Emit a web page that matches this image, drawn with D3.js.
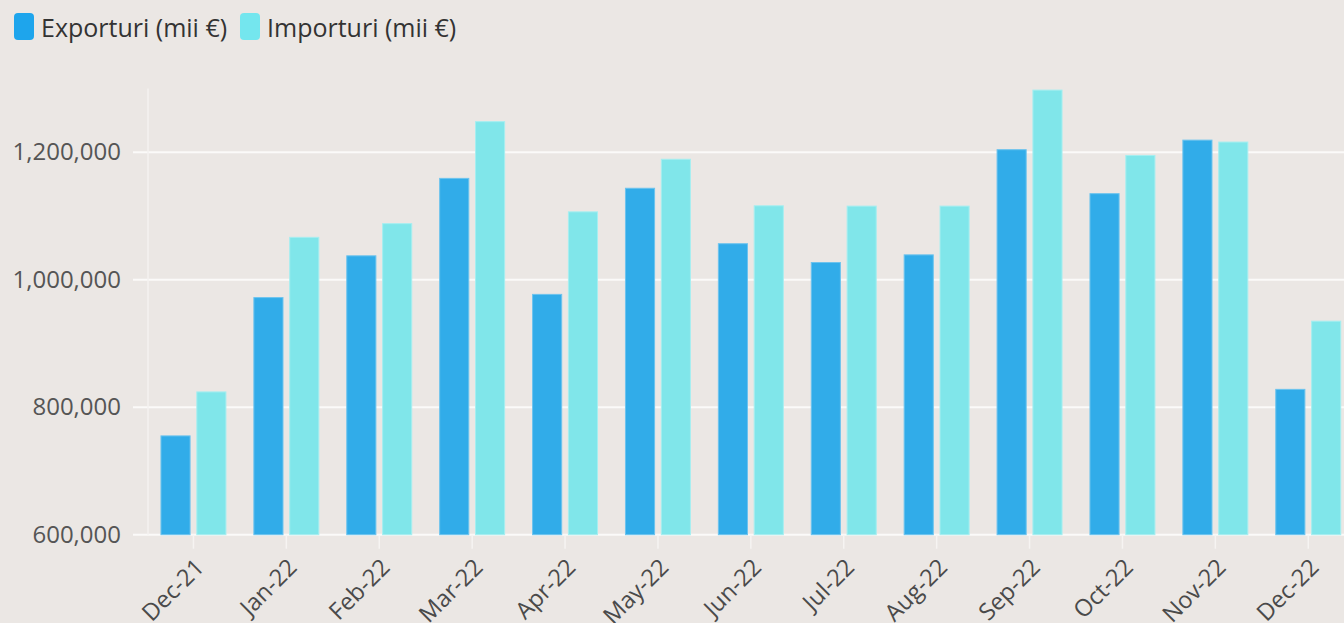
<!DOCTYPE html>
<html>
<head>
<meta charset="utf-8">
<script src="https://cdn.jsdelivr.net/npm/d3@7"></script>
<style>
  html, body { margin: 0; padding: 0; background: #ebe7e4; }
  svg { display: block; font-family: "Open Sans", "Noto Sans", sans-serif; }
</style>
</head>
<body>
<svg id="chart" width="1344" height="623"></svg>
<script>
// date (mii €)
const months = ["Dec-21", "Jan-22", "Feb-22", "Mar-22", "Apr-22", "May-22", "Jun-22",
  "Jul-22", "Aug-22", "Sep-22", "Oct-22", "Nov-22", "Dec-22"];
const exporturi = [755000, 972000, 1037500, 1159000, 977000, 1143500, 1056500,
  1027000, 1039000, 1204000, 1135000, 1219000, 828000];
const importuri = [824000, 1066500, 1088000, 1248000, 1106500, 1189000, 1116000,
  1115500, 1115500, 1297500, 1195000, 1216000, 935000];
const seriesNames = ["Exporturi (mii €)", "Importuri (mii €)"];
const yTicks = [600000, 800000, 1000000, 1200000];

const colors = ["#31ace9", "#80e6ea"];
const strokes = ["#6cc3ee", "#a6eef0"];

const svg = d3.select("#chart");
const width = 1344, height = 623;

const plotLeft = 147, plotBottom = 534.7, plotTop = 88.5;
const step = 92.9;

const x0 = d3.scaleBand()
  .domain(months)
  .range([plotLeft, plotLeft + step * months.length])
  .paddingInner(0.29)
  .paddingOuter(0.145);

const x1 = d3.scaleBand()
  .domain([0, 1])
  .range([0, x0.bandwidth()])
  .paddingInner(0.16);

const y = d3.scaleLinear()
  .domain([600000, 1300000])
  .range([plotBottom, plotTop]);

// grila orizontala
const grid = svg.append("g").attr("class", "grid");
grid.selectAll("line")
  .data(yTicks)
  .enter().append("line")
  .attr("x1", plotLeft - 14)
  .attr("x2", width)
  .attr("y1", d => y(d))
  .attr("y2", d => y(d))
  .attr("stroke", "#fbfaf9")
  .attr("stroke-width", 2);

// axa verticala
svg.append("line")
  .attr("x1", plotLeft + 1).attr("x2", plotLeft + 1)
  .attr("y1", y(1300000)).attr("y2", plotBottom)
  .attr("stroke", "#f4f2f0")
  .attr("stroke-width", 1.5);

// etichete Y
const yAxis = svg.append("g")
  .attr("transform", `translate(${plotLeft - 23},0)`)
  .call(d3.axisLeft(y).tickValues(yTicks).tickFormat(d3.format(",")).tickSize(0));
yAxis.select(".domain").remove();
yAxis.selectAll("text")
  .attr("font-size", 24)
  .attr("fill", "#555")
  .attr("font-family", "Open Sans");

// axa X
const xAxis = svg.append("g")
  .attr("transform", `translate(0,${plotBottom})`)
  .call(d3.axisBottom(x0).tickSize(14).tickSizeOuter(0));
xAxis.select(".domain").remove();
xAxis.selectAll(".tick line")
  .attr("stroke", "#f6f4f2")
  .attr("stroke-width", 1.5);
xAxis.selectAll(".tick text")
  .attr("font-size", 23.5)
  .attr("fill", "#4a4a4a")
  .attr("font-family", "Open Sans")
  .attr("text-anchor", "end")
  .attr("y", 0)
  .attr("dy", 0)
  .attr("transform", "translate(12,34) rotate(-45)");

// bare
const groups = svg.append("g").attr("class", "bars")
  .selectAll("g")
  .data(months)
  .enter().append("g")
  .attr("transform", d => `translate(${x0(d)},0)`);

groups.selectAll("rect")
  .data((d, i) => [exporturi[i], importuri[i]].map((v, s) => ({ v, s })))
  .enter().append("rect")
  .attr("x", d => x1(d.s) + 0.5)
  .attr("width", x1.bandwidth() - 1)
  .attr("y", d => y(d.v))
  .attr("height", d => plotBottom - y(d.v))
  .attr("fill", d => colors[d.s])
  .attr("stroke", d => strokes[d.s])
  .attr("stroke-width", 1);

// legenda
const legend = svg.append("g").attr("class", "legend");
const legX = [14, 240];
seriesNames.forEach((name, i) => {
  legend.append("rect")
    .attr("x", legX[i]).attr("y", 13)
    .attr("width", 20).attr("height", 27)
    .attr("rx", 4)
    .attr("fill", i === 0 ? "#1ea5ec" : "#74e6ee");
  legend.append("text")
    .attr("x", legX[i] + 27).attr("y", 37)
    .attr("font-size", 25)
    .attr("fill", "#333")
    .text(name);
});
</script>
</body>
</html>
